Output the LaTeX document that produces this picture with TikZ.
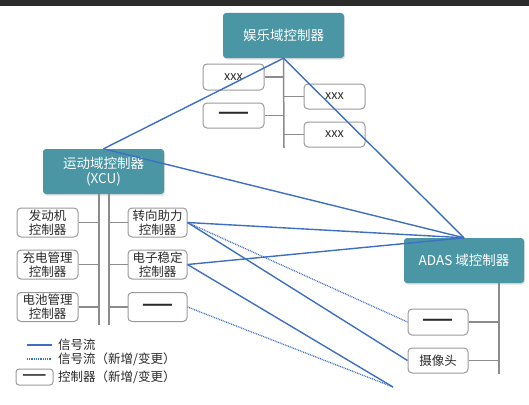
\documentclass[tikz,border=0pt]{standalone}
\usepackage{fontspec}
\setmainfont{Noto Sans CJK SC}
\usetikzlibrary{shadows}
\definecolor{teal1}{HTML}{4A96A5}
\definecolor{sig}{HTML}{3F6FC2}
\definecolor{conn}{HTML}{8C8C8C}
\definecolor{bord}{HTML}{9A9A9A}
\definecolor{txt}{HTML}{2A2A2A}
\definecolor{topbar}{HTML}{2B2B2B}
\newcommand{\dashmark}{{\fontsize{18}{18}\selectfont\bfseries ——}}
\tikzset{
  dombox/.style={fill=teal1, draw=none, rounded corners=3pt, text=white,
    font=\fontsize{13.5}{16}\selectfont, align=center, inner sep=0pt,
    drop shadow={opacity=0.25, shadow xshift=1pt, shadow yshift=-1.5pt}},
  ecubox/.style={fill=white, draw=bord, line width=1pt, rounded corners=4pt, text=txt,
    font=\fontsize{12.5}{14}\selectfont, align=center, inner sep=0pt},
  busline/.style={draw=conn, line width=1.5pt},
  sigline/.style={draw=sig, line width=1.4pt},
  sigdot/.style={draw=sig, line width=1.3pt, dash pattern=on 0.9pt off 0.9pt},
  legtext/.style={anchor=west, text=txt, font=\fontsize{12.5}{14}\selectfont, inner sep=0pt}
}
\begin{document}
\begin{tikzpicture}[x=1pt,y=-1pt]
\useasboundingbox (0,0) rectangle (529,404);
\fill[topbar] (0,0) rectangle (529,6.5);

% entertainment domain
\node[dombox, minimum width=121pt, minimum height=45pt] (ent) at (283.5,35.5) {娱乐域控制器};
\node[ecubox, minimum width=61pt, minimum height=26pt] (e1) at (233.5,77) {xxx};
\node[ecubox, minimum width=61pt, minimum height=25pt] (e2) at (233.5,115.5) {\dashmark};
\node[ecubox, minimum width=61pt, minimum height=25pt] (e3) at (334.5,96.5) {xxx};
\node[ecubox, minimum width=61pt, minimum height=25pt] (e4) at (334.5,134.5) {xxx};
\coordinate (eb) at (284,148);
\draw[busline] (ent.south) -- (eb);
\draw[busline] (e1.east) -- (e1.east -| eb);
\draw[busline] (e2.east) -- (e2.east -| eb);
\draw[busline] (e3.west) -- (e3.west -| eb);
\draw[busline] (e4.west) -- (e4.west -| eb);

% XCU
\node[dombox, minimum width=121pt, minimum height=45pt] (xcu) at (103.5,171.5) {运动域控制器\\[-1pt](XCU)};
\node[ecubox, minimum width=61pt, minimum height=29pt] (x1) at (47.5,222.5) {发动机\\控制器};
\node[ecubox, minimum width=61pt, minimum height=29pt] (x2) at (47.5,264.5) {充电管理\\控制器};
\node[ecubox, minimum width=61pt, minimum height=29pt] (x3) at (47.5,307) {电池管理\\控制器};
\node[ecubox, minimum width=59pt, minimum height=29pt] (x4) at (157.5,222.5) {转向助力\\控制器};
\node[ecubox, minimum width=59pt, minimum height=29pt] (x5) at (157.5,264.5) {电子稳定\\控制器};
\node[ecubox, minimum width=59pt, minimum height=29pt] (x6) at (157.5,307) {\dashmark};
\coordinate (xl) at (99,325);
\coordinate (xr) at (109,325);
\draw[busline] (xl |- xcu.south) -- (xl);
\draw[busline] (xr |- xcu.south) -- (xr);
\draw[busline] (x1.east) -- (x1.east -| xl);
\draw[busline] (x2.east) -- (x2.east -| xl);
\draw[busline] (x3.east) -- (x3.east -| xl);
\draw[busline] (x4.west) -- (x4.west -| xr);
\draw[busline] (x5.west) -- (x5.west -| xr);
\draw[busline] (x6.west) -- (x6.west -| xr);

% ADAS
\node[dombox, minimum width=120pt, minimum height=45pt] (adas) at (464,260.5) {ADAS 域控制器};
\node[ecubox, minimum width=60pt, minimum height=26pt] (a1) at (438,322) {\dashmark};
\node[ecubox, minimum width=60pt, minimum height=25pt] (a2) at (438,360.5) {摄像头};
\coordinate (ab) at (499,374);
\draw[busline] (ab |- adas.south) -- (ab);
\draw[busline] (a1.east) -- (a1.east -| ab);
\draw[busline] (a2.east) -- (a2.east -| ab);

% signal lines
\coordinate (free) at (393,387);
\draw[sigline] (ent.south) -- (xcu.north);
\draw[sigline] (ent.south) -- (adas.north);
\draw[sigline] (xcu.north) -- (adas.north);
\draw[sigline] (x4.east) -- (adas.north);
\draw[sigline] (x4.east) -- (a2.west);
\draw[sigdot] (x4.east) -- (a1.west);
\draw[sigline] (x5.east) -- (adas.north);
\draw[sigline] (x5.east) -- (free);
\draw[sigdot] (x6.east) -- (free);

% legend
\coordinate (l1a) at (27,345); \coordinate (l1b) at (52,345);
\coordinate (l2a) at (27,359); \coordinate (l2b) at (52,359);
\draw[sigline] (l1a) -- (l1b);
\draw[sigdot] (l2a) -- (l2b);
\node[ecubox, minimum width=37pt, minimum height=16pt, rounded corners=3pt] (lbox) at (34.5,377) {{\fontsize{14}{14}\selectfont\bfseries ——}};
\node[legtext] (t1) at (58,345) {信号流};
\node[legtext] (t2) at (58,359) {信号流（新增/变更）};
\node[legtext] (t3) at (58,377) {控制器（新增/变更）};
\end{tikzpicture}
\end{document}
